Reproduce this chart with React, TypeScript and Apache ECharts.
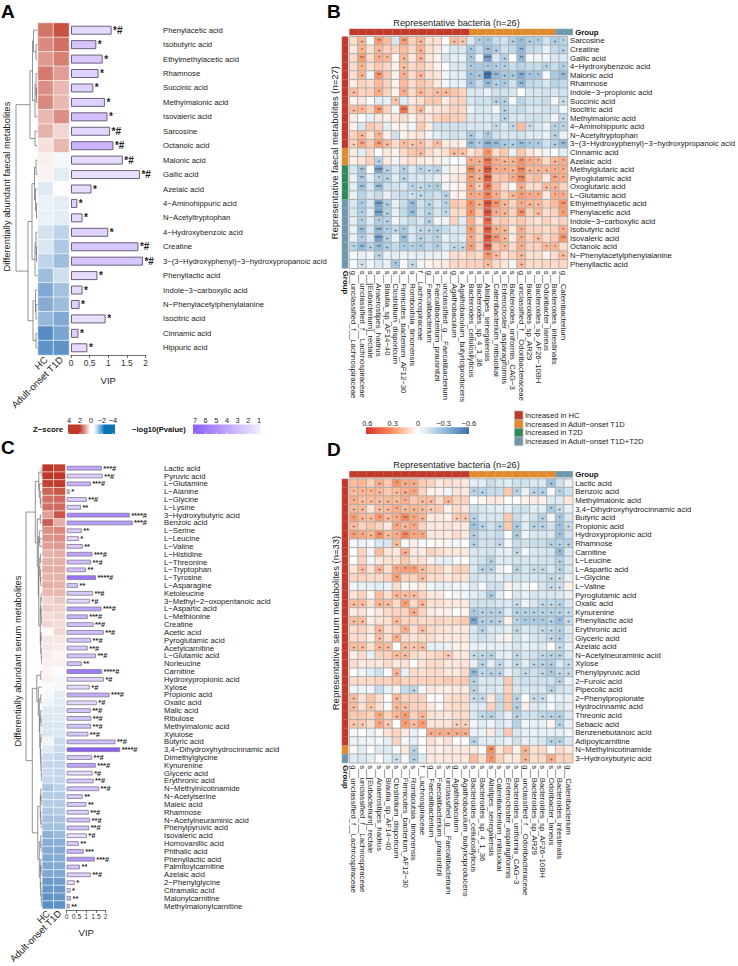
import React, { useEffect, useRef } from "react";
import * as echarts from "echarts";

const FONT = "Liberation Sans";

// ---------- Panel A ----------
const faecalNames = ["Phenylacetic acid","Isobutyric acid","Ethylmethylacetic acid","Rhamnose","Succinic acid","Methylmalonic acid","Isovaleric acid","Sarcosine","Octanoic acid","Malonic acid","Gallic acid","Azelaic acid","4−Aminohippuric acid","N−Acetyltryptophan","4−Hydroxybenzoic acid","Creatine","3−(3−Hydroxyphenyl)−3−hydroxypropanoic acid","Phenyllactic acid","Indole−3−carboxylic acid","N−Phenylacetylphenylalanine","Isocitric acid","Cinnamic acid","Hippuric acid"];
const faecalHC = [2.7,2.3,2.0,2.6,2.2,2.3,1.4,1.5,0.6,0.3,0.25,-0.6,-0.4,-0.4,-0.8,-0.7,-1.2,-1.8,-2.4,-2.3,-2.0,-3.2,-3.0];
const faecalT1D = [3.4,2.8,2.5,1.9,1.4,1.4,2.2,0.8,1.4,-0.2,-0.5,0.05,-0.5,-0.5,-1.2,-1.5,-1.8,-0.9,-1.7,-1.8,-2.4,-2.5,-3.0];
const faecalVIP = [1.09,0.68,0.85,0.74,0.6,0.91,0.98,1.05,1.14,1.39,1.85,0.55,0.17,0.31,1.0,1.81,1.93,0.71,0.31,0.23,0.93,0.2,0.44];
const faecalLogP = [1.7,2.4,2.2,2.0,2.0,2.0,2.6,1.8,3.0,1.6,1.5,1.6,2.0,1.7,1.9,2.3,2.3,1.6,1.7,2.0,1.5,2.0,1.6];
const faecalStars = ["*#","*","*","*","*","*","*","*#","*#","*#","*#","*","*","*","*","*#","*#","*","*","*","*","*","*"];
const faecalTree = [22,
  [8,[5.5,[4.5,0,[2,1,2]],[3,[2,3,[1.5,4,5]],6]],[3,7,8]],
  [10,[6,[3.5,[2,9,10],[2.5,11,[1.5,12,13]]],[3,[2,14,[1.5,15,16]],17]],[5,[2.5,18,[2,19,20]],[2,21,22]]]];

// ---------- Panel C ----------
const serumNames = ["Lactic acid","Pyruvic acid","L−Glutamine","L−Alanine","L−Glycine","L−Lysine","3−Hydroxybutyric acid","Benzoic acid","L−Serine","L−Leucine","L−Valine","L−Histidine","L−Threonine","L−Tryptophan","L−Tyrosine","L−Asparagine","Ketoleucine","3−Methyl−2−oxopentanoic acid","L−Aspartic acid","L−Methionine","Creatine","Acetic acid","Pyroglutamic acid","Acetylcarnitine","L−Glutamic acid","Norleucine","Carnitine","Hydroxypropionic acid","Xylose","Propionic acid","Oxalic acid","Malic acid","Ribulose","Methylmalonic acid","Xylulose","Butyric acid","3,4−Dihydroxyhydrocinnamic acid","Dimethylglycine","Kynurenine","Glyceric acid","Erythronic acid","N−Methylnicotinamide","N−Acetylserine","Maleic acid","Rhamnose","N−Acetylneuraminic acid","Phenylpyruvic acid","Isovaleric acid","Homovanillic acid","Phthalic acid","Phenyllactic acid","Palmitoylcarnitine","Azelaic acid","2−Phenylglycine","Citramalic acid","Malonylcarnitine","Methylmalonylcarnitine"];
const serumHC = [3.9,3.9,3.7,3.0,2.8,2.8,1.9,3.1,2.2,2.1,1.9,1.5,1.5,1.6,1.5,1.6,1.4,0.8,1.0,0.7,0.8,0.15,0.5,0.5,0.4,0.3,0.2,0.3,-0.1,-0.15,-0.3,-0.6,-0.6,-0.7,-0.7,-0.3,-0.6,-1.0,-1.1,-1.0,-1.1,-1.6,-1.4,-1.4,-1.5,-1.7,-1.7,-2.2,-2.3,-2.3,-2.4,-2.4,-2.4,-2.8,-2.9,-3.0,-3.1];
const serumT1D = [3.7,3.9,3.8,3.3,2.9,2.9,3.3,1.6,2.3,2.2,2.0,1.6,1.6,1.6,1.5,1.5,1.4,1.1,0.9,0.8,0.7,0.8,0.5,0.4,0.2,0.3,0.05,-0.2,-0.2,-0.5,-0.5,-0.6,-0.6,-0.7,-0.7,-1.0,-1.0,-1.1,-1.1,-1.1,-1.1,-1.2,-1.4,-1.4,-1.4,-1.6,-1.7,-1.9,-2.2,-2.3,-2.3,-2.3,-2.4,-2.7,-2.8,-2.9,-3.0];
const serumVIP = [1.8,1.85,1.23,0.15,1.03,0.73,3.23,3.38,0.77,0.62,0.82,1.32,1.25,0.99,1.5,0.58,1.35,1.18,1.78,1.08,1.38,1.9,1.25,1.08,1.5,0.77,1.81,1.91,1.18,2.2,1.54,1.23,1.26,1.25,1.11,2.5,2.74,1.3,1.49,1.33,1.38,1.66,0.82,1.01,1.13,1.2,1.15,1.03,0.62,0.87,1.44,0.68,1.23,0.41,0.2,0.22,0.15];
const serumLogP = [3.5,2.0,3.0,1.8,2.0,2.0,4.5,3.8,2.2,1.7,2.2,3.5,2.6,2.5,5.2,2.3,2.2,1.7,3.5,3.0,2.5,2.6,2.3,2.2,2.4,2.4,5.0,1.9,1.6,3.2,1.7,2.3,2.4,2.4,2.2,2.6,6.5,2.1,3.5,1.7,2.2,2.5,2.2,2.2,2.0,2.5,2.5,1.5,2.1,3.0,4.0,2.4,2.0,1.6,1.6,2.5,2.4];
const serumStars = ["***#","**#","***#","*","**#","**","****#","***#","**","*","**","***#","**#","**","****#","**","**#","*#","***#","***#","**#","**#","**#","**#","**#","**","****#","*#","*#","***#","*#","**#","**#","**#","**#","**#","****#","**#","***#","*#","**#","**#","**","**","**#","**#","**#","*#","**","***","***#","**","**#","*","*","**","**"];
const serumTree = [16.3,
  [7,[3.5,[1,0,1],[3,2,[2,3,[1.5,4,5]]]],
     [5,[2,6,7],[4,[3,8,[2.5,9,10]],[3.5,[2.5,[2,11,12],[2,13,[1.5,14,15]]],[2,[1.5,[1,16,17],[1,18,[0.8,19,20]]],[1.5,[1,21,22],[1,23,[0.8,24,25]]]]]]]],
  [10,[5.5,[1.5,26,27],[4,28,[3,[1.5,29,30],[2.5,[1.5,31,[1,32,33]],[2,[1,34,35],[1.5,36,[1.2,37,[1,38,[0.8,39,40]]]]]]]]],
      [4.5,[2,[1.5,41,[1,42,43]],[1.5,44,[1,45,46]]],[3,[1.5,47,[1,48,49]],[2,[1.5,50,[1,51,52]],[1.5,53,[1,54,[0.8,55,56]]]]]]]];

// ---------- Panels B and D ----------
const bacteria = ["g__unclassified_f__Lachnospiraceae","s__unclassified_f__Lachnospiraceae","s__[Eubacterium]_rectale","s__Anaerostipes_hadrus","s__Blautia_sp_AF14−40","s__Clostridium_disporicum","s__Firmicutes_bacterium_AF12−30","s__Romboutsia_timonensis","f__Lachnospiraceae","g__Faecalibacterium","s__Faecalibacterium_prausnitzii","s__unclassified_g__Faecalibacterium","g__Agathobaculum","s__Agathobaculum_butyriciproducens","s__Bacteroides_cellulosilyticus","s__Bacteroides_sp_4_1_36","s__Alistipes_senegalensis","s__Catenibacterium_mitsuokai","s__Enterocloster_asparagiformis","s__Bacteroides_uniformis_CAG−3","g__unclassified_f__Odoribacteraceae","s__Bacteroides_sp_AR29","s__Bacteroides_sp_AF26−10BH","s__Odoribacter_laneus","s__Bacteroides_intestinalis","g__Catenibacterium"];
const bacteriaGroup = [0,0,0,0,0,0,0,0,0,0,0,0,0,0,1,1,1,1,1,1,1,1,1,1,3,3];

const bNames = ["Sarcosine","Creatine","Gallic acid","4−Hydroxybenzoic acid","Malonic acid","Rhamnose","Indole−3−propionic acid","Succinic acid","Isocitric acid","Methylmalonic acid","4−Aminohippuric acid","N−Acetyltryptophan","3−(3−Hydroxyphenyl)−3−hydroxypropanoic acid","Cinnamic acid","Azelaic acid","Methylglutaric acid","Pyroglutamic acid","Oxoglutaric acid","L−Glutamic acid","Ethylmethylacetic acid","Phenylacetic acid","Indole−3−carboxylic acid","Isobutyric acid","Isovaleric acid","Octanoic acid","N−Phenylacetylphenylalanine","Phenyllactic acid"];
const bGroup = [0,0,0,0,0,0,0,0,0,0,0,0,0,1,1,2,2,2,2,3,3,3,3,3,3,3,3];
const bValues = [
[8,17,0,25,15,-8,25,10,17,7,7,0,15,13,-8,-18,-20,-12,-10,-17,-27,-18,-18,-10,-18,-15],
[5,18,7,17,10,10,15,8,18,7,5,-3,-8,-8,-22,-12,-25,-17,-10,-13,-30,-13,-12,-5,-13,-15],
[8,25,8,20,17,2,17,5,17,5,3,-8,-6,-5,-22,-3,-40,-8,-17,0,-30,-2,-3,-3,-8,-8],
[8,18,7,12,9,3,15,8,12,7,3,0,-8,-8,-20,-20,-20,-18,-18,-12,-15,-12,-12,-17,-12,-18],
[7,18,-3,28,12,3,20,8,17,7,6,-3,-6,-6,-25,-20,-55,-30,-22,-20,-35,-22,-22,-2,-20,-28],
[4,10,8,15,10,3,15,8,13,10,5,-2,-5,-5,-25,-12,-28,-17,-20,-10,-30,-13,-12,-8,-15,-13],
[15,10,10,20,10,3,20,8,17,12,15,15,13,10,-8,-8,-5,-10,-10,-8,0,-8,-8,-10,-8,-10],
[3,5,0,-6,-5,13,-6,5,7,12,12,4,10,10,-8,-10,-10,-15,-15,-2,-15,-10,-10,-12,-2,-12],
[15,17,10,27,10,-3,38,8,17,4,6,7,10,9,-4,-8,-8,-3,-15,-10,-12,-8,-8,-10,-10,-3],
[4,0,-5,5,3,6,7,3,9,6,10,12,11,10,-8,-8,-8,-8,-15,-8,-8,-10,-10,-8,-3,-13],
[3,-8,12,10,-6,3,3,-3,12,5,-10,-10,-10,-10,-8,-8,-8,-13,-8,-13,15,-12,-8,-5,-15,-15],
[10,17,6,18,3,-10,3,5,7,-3,-6,-8,-10,-8,-20,-10,-20,-10,-8,-8,-10,-7,-7,-5,-15,-5],
[10,22,12,25,15,8,15,12,14,8,15,5,5,3,-28,-18,-32,-28,-20,-17,-27,-20,-20,-10,-17,-28],
[5,-6,8,0,5,3,8,13,15,8,5,7,15,14,6,10,28,8,12,-5,12,5,3,-3,0,-6],
[3,6,10,-15,5,-3,5,7,5,3,4,-3,0,-2,20,18,38,20,17,17,28,20,18,8,17,20],
[-8,-22,0,-38,-15,-8,-18,-8,-15,-12,-15,-5,3,3,32,18,50,20,20,18,32,17,17,17,20,20],
[-5,-20,-5,-15,-15,-6,-15,-8,-8,-8,-6,2,5,6,25,17,48,12,13,20,33,13,15,5,22,20],
[-6,-25,-8,-27,-10,-10,-8,-15,-13,-15,-20,-3,2,3,25,10,40,15,7,2,20,8,8,15,17,10],
[-5,-15,-8,-12,-5,-10,-12,-10,-13,-13,-10,-15,3,3,22,20,35,20,10,17,25,20,20,5,20,20],
[-8,-20,-8,-38,-17,-5,-12,-28,-10,-15,-8,-15,12,10,30,18,50,28,17,10,20,17,15,10,15,27],
[-8,-18,-6,-38,-15,-5,-13,-28,-10,-15,-8,-13,8,8,30,12,50,20,17,10,30,10,15,8,10,25],
[-6,-17,-6,-17,-15,-3,-8,-12,-8,-15,-3,-3,10,-6,20,6,42,10,12,8,12,8,6,10,7,10],
[-5,-27,-8,-30,-18,-13,-20,-8,-13,-13,-15,-12,-8,-8,25,10,48,20,17,5,20,10,10,8,10,20],
[-5,-18,-8,-38,-15,-5,-27,-8,-15,-12,-15,-5,-8,-6,22,10,50,27,17,5,20,10,15,8,12,27],
[-15,-30,-15,-28,-18,-13,-20,-17,-20,-13,-18,-8,-13,-13,25,10,48,12,17,8,20,10,10,17,17,8],
[-2,-5,-3,-15,-5,-6,-4,-5,-6,-5,-5,-3,7,7,10,8,27,15,7,10,15,7,7,3,8,15],
[-2,-10,-3,-8,-5,-22,-2,-12,-3,3,4,5,9,9,10,10,15,8,6,-3,15,8,8,9,8,9],
];
const bSig = [
".+.2..2.+...++.11..+1+1.+1",
".1.+....+.....1.2+..2....+",
".2.11.+.+.....1.4.+.2.....",
".1....+.......1.111....1.1",
".+.2..1.+.....1+42++211..2",
"..............1.2+1.2.....",
"+..1..1.+.++..............",
".....1...........++......+",
"+1.2..3.+.........+.......",
"..................+......+",
".................1.1.1..11",
".+.1..........+.1.......+.",
"+2.2+.1+1.1...2132++211.+2",
"........+...++..1.........",
"...+..........1+41++211.+1",
".2.4+.1.1++...3+411+3+++11",
".2.1+.+.......2+4..13...21",
".2.3...1+11...112...+..++.",
".......1+..+..1121.+111.11",
".1.4+..2.+.1..1+42+.1++..2",
".1.4+..2.+.1..1.41+.2.+..1",
".1.1+....+......3.........",
".2.31+1.+++...1.41+.1....1",
".1.4+.2.+.1...1.42+.1.+..2",
"12+2+.111.1.++1.4.1.1..11.",
"...+............2+..+....+",
".+...1.+........+...+.....",
];

const dNames = ["Lactic acid","Benzoic acid","Methylmalonic acid","3,4−Dihydroxyhydrocinnamic acid","Butyric acid","Propionic acid","Hydroxypropionic acid","Rhamnose","Carnitine","L−Leucine","L−Aspartic acid","L−Glycine","L−Valine","Pyroglutamic acid","Oxalic acid","Kynurenine","Phenyllactic acid","Erythronic acid","Glyceric acid","Azelaic acid","N−Acetylneuraminic acid","Xylose","Phenylpyruvic acid","2−Furoic acid","Pipecolic acid","2−Phenylpropionate","Hydrocinnamic acid","Threonic acid","Sebacic acid","Benzenebutanoic acid","Adipoylcarnitine","N−Methylnicotinamide","3−Hydroxybutyric acid"];
const dGroup = [0,0,0,0,0,0,0,0,0,0,0,0,0,0,0,0,0,0,0,0,0,0,0,0,0,0,0,0,0,0,0,1,3];
const dValues = [
[15,17,10,20,12,28,20,20,12,10,5,7,6,5,-6,-6,-12,-8,-6,-10,-10,-8,-8,-25,-10,-5],
[15,17,17,17,12,15,20,22,10,3,3,-3,7,5,-15,-15,-12,-12,12,-15,-5,-15,-17,-2,-15,-10],
[20,15,15,15,15,15,20,12,15,15,8,17,10,10,0,2,5,5,0,0,3,4,3,-7,-7,5],
[15,15,6,15,15,20,15,17,15,12,12,3,8,6,-10,-8,-6,-6,-5,-10,-10,-6,-6,-20,-12,-5],
[25,17,15,27,15,20,32,22,17,5,5,3,12,12,-15,-8,-8,-8,12,-12,-6,-10,-15,-3,-22,-8],
[15,10,13,10,5,22,17,22,10,5,5,6,5,5,-25,-15,-10,-15,12,-20,-6,-15,-15,-10,-25,-12],
[25,22,17,30,15,20,33,22,22,5,5,4,8,5,-17,-10,-10,-12,-1,-20,-3,-8,-8,-8,-25,-10],
[-2,-4,-2,-8,-8,15,-2,4,-2,0,2,2,-3,0,-15,-10,-10,-13,-2,-12,-10,-12,-12,-15,-15,-15],
[0,10,-3,15,6,5,20,5,4,10,8,5,5,5,-8,-8,-10,-6,-5,-13,-3,-8,-8,-10,-30,-8],
[0,10,-2,5,7,7,12,6,7,3,-5,-5,-2,0,-8,-10,-15,-7,-7,-10,-8,-8,-10,-10,-15,-8],
[6,15,6,18,7,22,25,25,15,10,10,5,10,10,-8,-15,-15,-5,0,-15,-8,-12,-13,-8,-15,-8],
[10,10,8,8,10,25,10,10,15,8,8,5,8,6,-10,-8,-8,-6,-8,-10,-8,-8,-10,-13,-12,-5],
[-3,-5,-5,-6,-4,8,2,2,5,-3,-5,-5,-3,-3,-8,-2,-10,-10,3,-5,-3,0,-8,-12,-10,3],
[6,10,2,15,7,17,15,15,10,5,5,0,-3,-3,-6,-8,-20,-6,0,-8,-5,-8,-8,-8,-8,-5],
[15,15,7,18,15,8,25,8,17,7,7,5,5,5,-10,-10,-10,-8,-7,-12,-3,-8,-13,-13,-15,-8],
[4,6,2,5,8,10,10,20,10,4,3,3,0,2,-20,-15,-15,-15,-6,-15,-15,-15,-15,-15,-15,-12],
[15,15,4,7,7,15,10,10,8,8,10,8,10,12,-38,-17,-17,-15,3,-15,-20,-20,-20,-15,-27,-12],
[8,10,5,17,7,10,20,7,15,8,7,6,5,5,-8,-15,-8,-8,-5,-13,-8,-10,-13,-13,-15,-8],
[8,8,3,15,7,20,8,6,8,8,5,5,5,5,-8,-10,-8,-5,3,-10,-5,-8,-10,-13,-15,-8],
[15,15,7,17,15,-1,15,12,15,-5,-5,-4,3,3,-5,-5,-5,-5,-5,-8,-5,-6,-7,0,-12,-5],
[3,8,-5,10,10,15,15,8,7,8,10,12,5,5,-12,-13,-15,-6,-5,-13,-8,-10,-13,-15,-15,-8],
[8,5,6,5,8,5,7,0,6,8,8,5,5,6,-5,-15,-6,-13,-6,-13,-6,-13,-15,-17,-8,-12],
[0,-3,-6,-10,0,17,-5,8,7,8,8,5,5,8,-30,-13,-15,-15,-5,-10,-13,-10,-13,-20,-13,-12],
[8,8,8,10,10,13,10,10,10,10,10,12,10,12,-15,-8,-8,-8,12,-10,-10,-10,-10,-10,-15,-5],
[-3,-3,-3,-12,-5,3,-12,-15,-2,5,4,3,5,5,-15,-8,-8,-7,10,-8,-8,-8,-8,-15,-10,-8],
[15,6,13,7,0,17,10,10,10,0,-1,7,8,8,-12,-13,5,-13,12,-15,0,-12,-12,-3,-5,-5],
[15,7,13,7,-1,17,15,10,10,5,2,7,8,8,-7,-7,10,-12,12,-17,4,-7,-7,-2,-8,-5],
[12,12,10,22,10,17,25,10,17,7,6,5,8,8,-8,-13,-15,-10,-5,-15,-10,-10,-13,-15,-17,-8],
[12,12,7,22,12,0,25,15,25,6,6,6,10,10,-3,-6,-3,-8,-5,-15,-3,-5,-5,2,-15,-5],
[-2,0,-5,2,7,10,5,-5,0,20,20,20,20,20,-5,-5,5,-8,12,-8,-5,-5,-5,-5,-5,-3],
[-4,-4,-3,-3,-5,10,-2,-6,0,7,3,6,0,0,-15,-6,-6,-7,-4,-10,-5,-6,-8,-15,-15,-8],
[2,-6,0,-7,-7,-2,5,-15,0,5,3,5,5,5,5,0,30,5,12,3,18,7,8,0,8,5],
[-7,-8,-6,0,-6,-12,-2,-17,-7,5,5,5,5,5,15,7,27,10,5,5,17,7,9,20,10,10],
];
const dSig = [
"...+.1++...............+..",
"111+.++1......1+...1.++.1.",
"1+++++1.++.+..............",
"++.++1++++.............1+.",
"1++1+121+...+++.......+.1.",
"+....1+1......1+.+.+.++.1+",
"11+2+1211.....+....+....1.",
".....+........+..+.....+++",
"......+............+....1.",
"................+.......+.",
".+.+.111+......++..+.++.+.",
".....1..+..............++.",
".......................++.",
".....+++........+.........",
"++.++.1.+..........+..+++.",
".......+......1+++.+++++++",
"++...+........2+++.1111+1+",
"...+..1.+......+...+..+++.",
"...+.1.................++.",
"++.++.+++...............+.",
".....++....+..+++..+..+++.",
"...............+.+.+.+++.+",
".....+........2+++..+.+1++",
"..............+.........+.",
".......+......+........+..",
"+....+........++...+.++...",
"+.+..++............+......",
"...1.+1.+......++..+..+++.",
"++.1+.1+1...++..........+.",
".........+++++............",
"..............+........++.",
".......+........2...+.....",
".....+.+........1...+..+..",
];

// ---------- Legends ----------
const zTicks = ["4","2","0","−2","−4"];
const pTicks = ["7","6","5","4","3","2","1"];
const corrTicks = ["0.6","0.3","0","−0.3","−0.6"];
const groupNames = ["Increased in HC","Increased in Adult−onset T1D","Increased in T2D","Increased in Adult−onset T1D+T2D"];
const groupColors = ["#c0392b","#e08a2e","#2e8b57","#7098ad"];
const corrColors = ["#3d70b0","#94bedd","#ffffff","#fb8d5c","#d9352a"];
const corrRamp = ["#2f66ad","#5e94c8","#8fbbdc","#b6d4e8","#ffffff","#ffbc9c","#fb8d5c","#ee5f3f","#d9352a"];
const sampleNames = ["HC","Adult-onset T1D"];

function dendroSegments(tree: any) {
  const segs: number[][] = [];
  const walk = (n: any): { p: number; h: number } => {
    if (typeof n === "number") return { p: n + 0.5, h: 0 };
    const a = walk(n[1]);
    const b = walk(n[2]);
    segs.push([a.h, a.p, n[0], a.p], [n[0], a.p, n[0], b.p], [b.h, b.p, n[0], b.p]);
    return { p: (a.p + b.p) / 2, h: n[0] };
  };
  walk(tree);
  return segs;
}

function buildOption() {
  const grid: any[] = [], xAxis: any[] = [], yAxis: any[] = [], series: any[] = [];
  const zIdx: number[] = [], barIdx: number[] = [], corrIdx: number[] = [], groupIdx: number[] = [];
  const hidden = { axisLine: { show: false }, axisTick: { show: false }, splitLine: { show: false } };

  const addGrid = (left: number, top: number, width: number, height: number, x: any, y: any) => {
    grid.push({ left, top, width, height });
    const gi = grid.length - 1;
    xAxis.push({ gridIndex: gi, ...x });
    yAxis.push({ gridIndex: gi, ...y });
    return gi;
  };

  const metabolitePanel = (o: any) => {
    const n = o.names.length;
    // dendrogram
    let gi = addGrid(o.dLeft, o.top, o.dWidth, o.height,
      { type: "value", min: 0, max: o.dWidth, inverse: true, show: false, ...hidden },
      { type: "value", min: 0, max: n, inverse: true, show: false, ...hidden });
    series.push({
      type: "custom", xAxisIndex: gi, yAxisIndex: gi, silent: true, data: dendroSegments(o.tree),
      renderItem: (_: any, api: any) => {
        const a = api.coord([api.value(0), api.value(1)]);
        const b = api.coord([api.value(2), api.value(3)]);
        return { type: "line", shape: { x1: a[0], y1: a[1], x2: b[0], y2: b[1] }, style: { stroke: "#666", lineWidth: 0.7 } };
      },
    });
    // z-score heat map
    gi = addGrid(o.hLeft, o.top, o.hWidth, o.height,
      { type: "category", data: sampleNames, ...hidden, axisLabel: { rotate: 45, fontSize: 9.5, margin: 3, interval: 0, fontFamily: FONT, color: "#222" } },
      { type: "category", data: o.names, inverse: true, show: false, ...hidden });
    const cells: number[][] = [];
    o.names.forEach((_: string, i: number) => { cells.push([0, i, o.hc[i]], [1, i, o.t1d[i]]); });
    zIdx.push(series.length);
    series.push({ type: "heatmap", xAxisIndex: gi, yAxisIndex: gi, silent: true, data: cells, itemStyle: { borderColor: "#fff", borderWidth: 0.6 } });
    // VIP bars
    gi = addGrid(o.bLeft, o.top, o.bWidth, o.height,
      { type: "value", min: 0, max: 2, interval: 0.5, splitLine: { show: false },
        axisLine: { show: true, lineStyle: { color: "#333", width: 0.7 } }, axisTick: { show: true, length: 3, lineStyle: { color: "#333", width: 0.7 } },
        axisLabel: { fontSize: o.tickFont, margin: 3, color: "#333", fontFamily: FONT, hideOverlap: false },
        name: "VIP", nameLocation: "middle", nameGap: o.nameGap, nameTextStyle: { fontSize: 9.5, color: "#222", fontFamily: FONT } },
      { type: "category", data: o.names, inverse: true, position: "right", ...hidden,
        axisLabel: { margin: o.labelMargin, fontSize: o.labelFont, color: "#222", fontFamily: FONT, interval: 0, align: "left" } });
    barIdx.push(series.length);
    series.push({
      type: "bar", xAxisIndex: gi, yAxisIndex: gi, silent: true, clip: false, barWidth: o.barWidth,
      data: o.names.map((_: string, i: number) => [o.vip[i], i, o.logp[i]]),
      encode: { x: 0, y: 1 },
      itemStyle: { borderColor: o.barBorder, borderWidth: o.barBorderWidth },
      label: { show: true, position: "right", distance: 1.5, fontSize: o.starFont, fontWeight: "bold", color: "#222", fontFamily: FONT,
        formatter: (p: any) => o.stars[p.dataIndex] },
    });
  };

  const corrPanel = (o: any) => {
    const left = 349.5, width = 223.2;
    // top group strip
    let gi = addGrid(left, o.top - 7.7, width, 6,
      { type: "category", data: bacteria, show: false, ...hidden },
      { type: "category", data: ["Group"], position: "right", ...hidden, axisLabel: { fontSize: 7.8, fontWeight: "bold", margin: 2.5, color: "#111", fontFamily: FONT } });
    groupIdx.push(series.length);
    series.push({ type: "heatmap", xAxisIndex: gi, yAxisIndex: gi, silent: true,
      data: bacteriaGroup.map((g, c) => [c, 0, g]), itemStyle: { borderColor: "rgba(255,255,255,0.25)", borderWidth: 0.5 } });
    // left group strip
    gi = addGrid(342, o.top, 6, o.height,
      { type: "category", data: ["Group"], ...hidden, axisLabel: { fontSize: 7.8, fontWeight: "bold", rotate: -90, margin: 2.5, color: "#111", fontFamily: FONT } },
      { type: "category", data: o.names, inverse: true, show: false, ...hidden });
    groupIdx.push(series.length);
    series.push({ type: "heatmap", xAxisIndex: gi, yAxisIndex: gi, silent: true,
      data: o.group.map((g: number, r: number) => [0, r, g]), itemStyle: { borderColor: "rgba(255,255,255,0.25)", borderWidth: 0.5 } });
    // correlation heat map
    gi = addGrid(left, o.top, width, o.height,
      { type: "category", data: bacteria, ...hidden, axisLabel: { rotate: -90, interval: 0, fontSize: 7.75, margin: 2.5, color: "#222", fontFamily: FONT } },
      { type: "category", data: o.names, inverse: true, position: "right", ...hidden, axisLabel: { interval: 0, fontSize: 7.75, margin: 2.5, color: "#222", fontFamily: FONT, align: "left" } });
    const cells: number[][] = [];
    o.values.forEach((row: number[], r: number) => row.forEach((v, c) => cells.push([c, r, v / 100])));
    const sigText: Record<string, string> = { ".": "", "+": "+", "1": "*", "2": "**", "3": "***", "4": "****" };
    corrIdx.push(series.length);
    series.push({
      type: "heatmap", xAxisIndex: gi, yAxisIndex: gi, silent: true, data: cells,
      itemStyle: { borderColor: "#aeaeae", borderWidth: 1 },
      label: { show: true, fontSize: 5, color: "#444", fontFamily: FONT, textBorderWidth: 0, textShadowBlur: 0, formatter: (p: any) => sigText[o.sig[p.value[1]][p.value[0]]] },
    });
  };

  metabolitePanel({ names: faecalNames, hc: faecalHC, t1d: faecalT1D, vip: faecalVIP, logp: faecalLogP, stars: faecalStars, tree: faecalTree,
    dLeft: 15, dWidth: 23, hLeft: 38, hWidth: 31, bLeft: 71, bWidth: 74.5, top: 23, height: 332,
    barWidth: 9, barBorder: "#6b6078", barBorderWidth: 1, starFont: 10, labelFont: 7.7, labelMargin: 17.5, tickFont: 8.5, nameGap: 20 });
  metabolitePanel({ names: serumNames, hc: serumHC, t1d: serumT1D, vip: serumVIP, logp: serumLogP, stars: serumStars, tree: serumTree,
    dLeft: 25, dWidth: 17.3, hLeft: 42.3, hWidth: 23, bLeft: 66.7, bWidth: 39, top: 464.3, height: 445.7,
    barWidth: 4.6, barBorder: "#7f7790", barBorderWidth: 0.8, starFont: 7.5, labelFont: 7.7, labelMargin: 58.3, tickFont: 6.8, nameGap: 17 });
  corrPanel({ names: bNames, group: bGroup, values: bValues, sig: bSig, top: 36.7, height: 231.6 });
  corrPanel({ names: dNames, group: dGroup, values: dValues, sig: dSig, top: 479, height: 283.8 });

  const text = (t: string, x: number, y: number, font: string, extra: any = {}, styleExtra: any = {}) => ({
    type: "text", x, y, silent: true, ...extra,
    style: { text: t, font, fill: "#222", textAlign: "left", textVerticalAlign: "middle", ...styleExtra },
  });
  const elements: any[] = [
    text("A", 1, 11, `bold 19px "${FONT}"`, {}, { fill: "#000" }),
    text("B", 327, 11, `bold 19px "${FONT}"`, {}, { fill: "#000" }),
    text("C", 1, 447, `bold 19px "${FONT}"`, {}, { fill: "#000" }),
    text("D", 327, 449, `bold 19px "${FONT}"`, {}, { fill: "#000" }),
    text("Representative bacteria (n=26)", 456.5, 23, `9.2px "${FONT}"`, {}, { textAlign: "center" }),
    text("Representative bacteria (n=26)", 456.5, 465, `9.2px "${FONT}"`, {}, { textAlign: "center" }),
    text("Differentially abundant faecal metabolites", 6.5, 186.5, `9.3px "${FONT}"`, { rotation: Math.PI / 2 }, { textAlign: "center" }),
    text("Differentially abundant serum metabolites", 18, 661, `9.3px "${FONT}"`, { rotation: Math.PI / 2 }, { textAlign: "center" }),
    text("Representative faecal metabolites (n=27)", 334, 152.7, `9.5px "${FONT}"`, { rotation: Math.PI / 2 }, { textAlign: "center" }),
    text("Representative serum metabolites (n=33)", 335, 623, `9.5px "${FONT}"`, { rotation: Math.PI / 2 }, { textAlign: "center" }),
    // z-score legend
    text("Z−score", 33, 429.5, `bold 7.8px "${FONT}"`, {}, { fill: "#111" }),
    { type: "rect", silent: true, shape: { x: 68, y: 424.5, width: 47, height: 9.5 },
      style: { fill: new echarts.graphic.LinearGradient(0, 0, 1, 0, [
        { offset: 0, color: "#c0392b" }, { offset: 0.25, color: "#c0392b" }, { offset: 0.48, color: "#ffffff" },
        { offset: 0.55, color: "#ffffff" }, { offset: 0.78, color: "#0a72b5" }, { offset: 1, color: "#0a72b5" }]) } },
    // -log10 p legend
    text("−log10(Pvalue)", 132, 429.5, `bold 7.6px "${FONT}"`, {}, { fill: "#111" }),
    { type: "rect", silent: true, shape: { x: 193, y: 424.5, width: 67.5, height: 9.5 },
      style: { fill: new echarts.graphic.LinearGradient(0, 0, 1, 0, [{ offset: 0, color: "#8c5cff" }, { offset: 1, color: "#f3edff" }]) } },
    // correlation legend
    { type: "rect", silent: true, shape: { x: 366, y: 427.3, width: 103, height: 6.7 },
      style: { fill: new echarts.graphic.LinearGradient(0, 0, 1, 0, corrColors.slice().reverse().map((color, i) => ({ offset: i / 4, color }))) } },
  ];
  zTicks.forEach((t, i) => {
    const x = 69 + i * 11;
    elements.push(text(t, x, 420, `7.4px "${FONT}"`, {}, { textAlign: "center" }));
    elements.push({ type: "line", silent: true, shape: { x1: x, y1: 432.5, x2: x, y2: 434 }, style: { stroke: "#fff", lineWidth: 0.7 } });
  });
  pTicks.forEach((t, i) => {
    const x = 195 + i * 10.67;
    elements.push(text(t, x, 420, `7.4px "${FONT}"`, {}, { textAlign: "center" }));
    elements.push({ type: "line", silent: true, shape: { x1: x, y1: 432.5, x2: x, y2: 434 }, style: { stroke: "#fff", lineWidth: 0.7 } });
  });
  corrTicks.forEach((t, i) => {
    elements.push(text(t, 367.3 + i * 25.4, 423, `7.4px "${FONT}"`, {}, { textAlign: "center" }));
  });
  groupNames.forEach((t, i) => {
    elements.push({ type: "rect", silent: true, shape: { x: 514.5, y: 411 + i * 8.65, width: 8.5, height: 8.65 },
      style: { fill: groupColors[i], stroke: "#b5b5b5", lineWidth: 0.7 } });
    elements.push(text(t, 525, 415.5 + i * 8.65, `7.6px "${FONT}"`));
  });

  return {
    animation: false,
    backgroundColor: "#fff",
    grid, xAxis, yAxis, series,
    visualMap: [
      { type: "continuous", show: false, seriesIndex: zIdx, dimension: 2, min: -4, max: 4, inRange: { color: ["#2a6fb5", "#ffffff", "#bd3321"] } },
      { type: "continuous", show: false, seriesIndex: barIdx, dimension: 2, min: 1, max: 6, inRange: { color: ["#f3edff", "#8c5cff"] } },
      { type: "continuous", show: false, seriesIndex: corrIdx, dimension: 2, min: -0.6, max: 0.6, inRange: { color: corrRamp } },
      { type: "piecewise", show: false, seriesIndex: groupIdx, dimension: 2, pieces: groupColors.map((color, value) => ({ value, color })) },
    ],
    graphic: { elements },
  };
}

export default function App() {
  const ref = useRef<HTMLDivElement>(null);
  useEffect(() => {
    const chart = echarts.init(ref.current!, undefined, { renderer: "svg" });
    chart.setOption(buildOption() as any);
    return () => chart.dispose();
  }, []);
  return <div ref={ref} style={{ position: "absolute", left: 0, top: 0, width: 738, height: 966 }} />;
}
